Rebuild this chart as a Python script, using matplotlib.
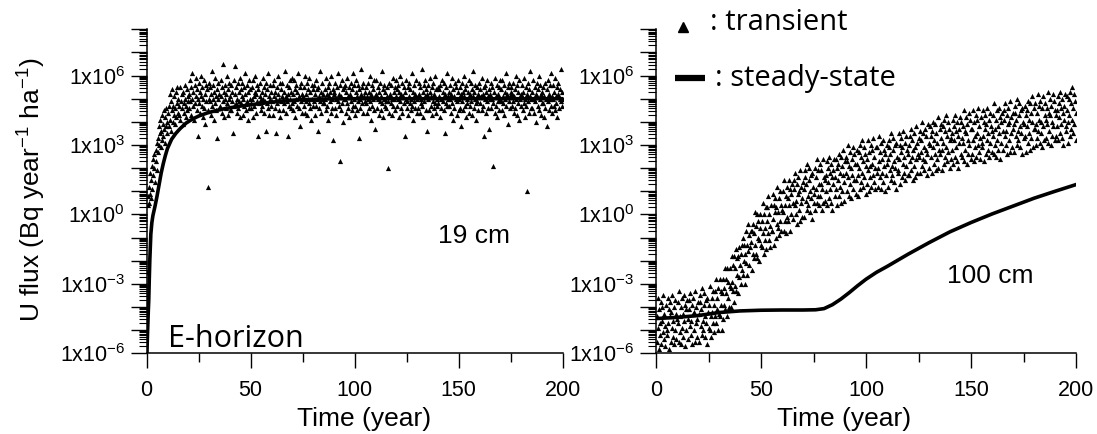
import numpy as np
import matplotlib
matplotlib.use("Agg")
import matplotlib.pyplot as plt
from matplotlib.ticker import LogLocator, FuncFormatter, NullFormatter, MultipleLocator
from matplotlib.lines import Line2D

plt.rcParams['font.family'] = ['Liberation Sans', 'DejaVu Sans']
plt.rcParams['mathtext.fontset'] = 'custom'
plt.rcParams['mathtext.rm'] = 'Liberation Sans'
plt.rcParams['mathtext.it'] = 'Liberation Sans:italic'
plt.rcParams['mathtext.default'] = 'regular'

# ---------------- data ----------------
time_step = 0.25  # years between transient samples

# transient flux, 19 cm (E-horizon), log10(value) x 10
left_transient_log10x10 = [
    -25, 4, 8, 5, 12, 9, 18, 7, 15, 21, 11, 24, 17, 26, 20, 14, 28, 23, 31, 19,
    33, 27, 38, 30, 35, 41, 29, 36, 43, 32, 39, 34, 45, 37, 31, 42, 38, 46, 35, 40,
    44, 38, 47, 52, 41, 36, 49, 45, 54, 40, 47, 43, 51, 39, 46, 53, 42, 48, 55, 44,
    50, 43, 47, 55, 41, 49, 52, 46, 39, 53, 48, 44, 56, 50, 42, 47, 54, 45, 51, 49,
    52, 46, 58, 49, 43, 55, 50, 61, 47, 53, 41, 56, 48, 51, 59, 45, 54, 34, 50, 57,
    48, 53, 44, 60, 51, 47, 55, 42, 50, 58, 46, 52, 39, 56, 49, 54, 45, 12, 57, 50,
    55, 49, 43, 52, 62, 47, 50, 56, 41, 53, 48, 59, 45, 51, 54, 33, 50, 57, 46, 52,
    47, 58, 51, 44, 55, 49, 65, 53, 42, 50, 56, 46, 52, 60, 48, 43, 54, 50, 57, 45,
    51, 45, 56, 49, 53, 35, 58, 47, 52, 64, 48, 55, 44, 50, 57, 46, 53, 49, 42, 59,
    54, 48, 51, 57, 43, 50, 55, 47, 61, 52, 45, 49, 56, 41, 53, 58, 46, 50, 54, 48,
    46, 55, 50, 42, 58, 51, 47, 53, 60, 44, 52, 49, 56, 34, 54, 48, 51, 57, 45, 50,
    53, 47, 59, 50, 44, 55, 49, 52, 36, 57, 48, 54, 46, 61, 51, 43, 56, 50, 47, 53,
    49, 56, 43, 51, 58, 46, 53, 50, 35, 55, 48, 52, 60, 45, 50, 57, 42, 54, 49, 51,
    57, 50, 45, 53, 48, 62, 51, 44, 56, 49, 52, 34, 55, 47, 58, 50, 46, 53, 59, 48,
    45, 52, 58, 49, 54, 42, 50, 56, 47, 53, 61, 46, 51, 38, 55, 49, 57, 44, 52, 50,
    51, 47, 55, 60, 44, 52, 49, 57, 43, 50, 54, 48, 59, 46, 53, 41, 56, 50, 47, 54,
    56, 49, 43, 52, 58, 47, 54, 50, 36, 55, 51, 46, 62, 49, 53, 44, 57, 50, 48, 52,
    48, 54, 50, 45, 59, 52, 47, 55, 41, 51, 57, 49, 53, 44, 60, 50, 46, 54, 32, 52,
    53, 46, 57, 50, 43, 55, 49, 61, 47, 52, 23, 56, 45, 51, 58, 48, 54, 40, 50, 55,
    50, 56, 44, 53, 48, 59, 51, 46, 55, 42, 52, 57, 49, 45, 54, 61, 47, 50, 56, 43,
    47, 53, 58, 45, 51, 49, 56, 33, 54, 50, 46, 63, 52, 48, 55, 44, 57, 51, 49, 53,
    55, 48, 51, 44, 57, 50, 53, 46, 60, 49, 52, 41, 56, 47, 54, 50, 58, 45, 51, 37,
    52, 58, 46, 50, 55, 43, 53, 49, 57, 45, 51, 62, 48, 54, 42, 50, 56, 47, 53, 49,
    46, 51, 55, 20, 49, 57, 44, 52, 48, 56, 50, 43, 59, 47, 53, 50, 45, 55, 51, 58,
    54, 47, 50, 56, 42, 53, 49, 60, 46, 52, 57, 44, 51, 48, 55, 34, 53, 50, 58, 46,
    49, 55, 43, 51, 57, 48, 54, 45, 50, 61, 47, 53, 41, 56, 49, 52, 46, 58, 50, 44,
    51, 46, 57, 52, 44, 55, 48, 50, 63, 47, 53, 42, 56, 49, 51, 58, 45, 54, 36, 52,
    56, 50, 45, 53, 59, 47, 51, 43, 55, 49, 57, 46, 52, 48, 60, 44, 54, 50, 47, 55,
    48, 54, 51, 42, 56, 50, 46, 58, 49, 53, 45, 57, 35, 52, 48, 55, 61, 47, 51, 50,
    53, 47, 56, 50, 44, 52, 59, 48, 54, 41, 51, 46, 57, 50, 55, 43, 49, 53, 58, 45,
    50, 55, 46, 52, 38, 57, 49, 53, 45, 60, 51, 47, 54, 42, 56, 50, 48, 53, 44, 58,
    47, 52, 57, 49, 54, 43, 51, 62, 46, 53, 50, 56, 41, 48, 55, 49, 52, 45, 57, 51,
    54, 48, 51, 59, 45, 52, 47, 55, 34, 50, 56, 44, 53, 49, 58, 46, 51, 54, 37, 50,
    52, 57, 46, 50, 55, 21, 48, 53, 44, 59, 51, 47, 56, 42, 52, 49, 55, 45, 58, 50,
    49, 54, 58, 45, 51, 48, 56, 43, 53, 50, 61, 47, 52, 39, 55, 49, 57, 46, 51, 53,
    55, 47, 52, 49, 57, 44, 51, 54, 46, 60, 50, 43, 56, 48, 53, 41, 58, 50, 47, 52,
    51, 56, 45, 53, 48, 59, 50, 42, 55, 47, 52, 10, 57, 49, 54, 44, 51, 62, 46, 50,
    46, 53, 58, 50, 44, 55, 49, 52, 40, 57, 51, 47, 54, 60, 45, 50, 56, 43, 52, 48,
    53, 48, 55, 42, 51, 57, 46, 50, 54, 38, 58, 49, 52, 45, 56, 50, 47, 61, 51, 44,
    50, 56, 47, 53, 59, 45, 51, 48, 55, 42, 52, 57, 46, 50, 54, 49, 63, 47, 53, 50,
]

# transient flux, 100 cm, log10(value) x 10
right_transient_log10x10 = [
    -44, -55, -36, -49, -58, -41, -47, -52, -38, -56, -46, -40, -51, -35, -54, -43, -48, -57, -39, -50,
    -52, -36, -47, -41, -58, -44, -38, -55, -42, -49, -35, -53, -46, -40, -56, -37, -50, -43, -54, -45,
    -38, -47, -55, -33, -44, -51, -40, -56, -36, -49, -43, -53, -35, -46, -39, -57, -41, -50, -37, -45,
    -54, -41, -37, -48, -34, -52, -46, -39, -56, -43, -36, -50, -42, -55, -33, -47, -40, -53, -45, -38,
    -43, -55, -38, -35, -48, -41, -52, -32, -46, -50, -39, -34, -53, -44, -37, -47, -56, -36, -42, -49,
    -39, -50, -31, -44, -53, -36, -42, -47, -33, -51, -39, -33, -44, -28, -47, -36, -41, -50, -32, -43,
    -44, -28, -39, -33, -50, -34, -28, -45, -32, -39, -23, -41, -34, -28, -44, -23, -36, -29, -40, -31,
    -23, -32, -40, -18, -29, -33, -22, -38, -18, -31, -23, -33, -15, -26, -19, -34, -18, -27, -14, -22,
    -30, -17, -13, -24, -10, -26, -20, -13, -30, -17, -7, -21, -13, -26, -4, -16, -9, -22, -14, -7,
    -12, -24, -7, -4, -17, -8, -19, 1, -13, -17, -5, 0, -19, -10, -3, -11, -20, 0, -6, -13,
    -3, -14, 5, -8, -17, 0, -6, -11, 3, -15, -3, 3, -8, 8, -11, 0, -5, -14, 4, -7,
    -7, 9, -2, 4, -13, 1, 7, -10, 3, -4, 12, -6, 1, 7, -9, 10, -3, 4, -7, 2,
    10, 1, -7, 15, 4, -3, 8, -8, 12, -1, 7, -3, 15, 4, 11, -7, 9, 0, 13, 5,
    -2, 11, 15, 4, 18, 0, 6, 13, -4, 9, 16, 2, 10, -3, 19, 5, 12, -1, 7, 14,
    11, -1, 16, 19, 6, 13, 2, 22, 8, 4, 15, 20, 1, 10, 17, 7, -2, 18, 12, 5,
    9, 20, 2, 11, 16, 5, 24, 8, 19, 13, 4, 22, 8, 13, 19, 2, 11, 24, 5, 16,
    15, 6, 17, 10, 23, 4, 20, 14, 7, 25, 11, 18, 5, 22, 16, 2, 19, 13, 24, 8,
    16, 24, 11, 20, 4, 22, 15, 26, 8, 18, 12, 25, 5, 21, 10, 17, 28, 6, 14, 23,
    25, 18, 10, 23, 16, 30, 8, 21, 13, 27, 20, 7, 24, 17, 11, 29, 15, 26, 22, 9,
    15, 22, 28, 8, 17, 27, 20, 11, 30, 25, 14, 18, 32, 12, 23, 16, 29, 26, 9, 21,
    24, 13, 32, 19, 10, 27, 21, 16, 30, 12, 22, 28, 17, 33, 14, 25, 20, 11, 29, 18,
    29, 20, 12, 34, 23, 16, 27, 11, 31, 18, 24, 14, 32, 21, 28, 10, 26, 17, 30, 22,
    24, 12, 29, 32, 19, 26, 15, 35, 21, 17, 28, 33, 14, 23, 30, 20, 11, 31, 25, 18,
    19, 35, 24, 30, 13, 27, 33, 16, 29, 22, 36, 18, 25, 31, 15, 34, 21, 28, 17, 26,
    17, 30, 34, 23, 37, 19, 25, 32, 15, 28, 35, 21, 29, 16, 38, 24, 31, 18, 26, 33,
    25, 36, 18, 27, 32, 21, 40, 24, 35, 29, 19, 37, 23, 28, 34, 17, 26, 39, 20, 31,
    30, 38, 25, 34, 18, 36, 29, 40, 22, 32, 26, 39, 19, 35, 24, 31, 42, 20, 28, 37,
    26, 33, 39, 19, 28, 38, 31, 22, 41, 36, 25, 29, 43, 23, 34, 27, 40, 37, 20, 32,
    33, 24, 35, 28, 41, 22, 38, 32, 25, 43, 29, 36, 23, 40, 34, 20, 37, 31, 42, 26,
    40, 33, 25, 38, 31, 45, 23, 36, 28, 42, 35, 22, 39, 32, 26, 44, 30, 41, 37, 24,
    37, 26, 45, 32, 23, 40, 34, 29, 43, 25, 35, 41, 30, 46, 27, 38, 33, 24, 42, 31,
    29, 45, 34, 40, 23, 37, 43, 26, 39, 32, 46, 28, 35, 41, 25, 44, 31, 38, 27, 36,
    43, 34, 26, 48, 37, 30, 41, 25, 45, 32, 38, 28, 46, 35, 42, 24, 40, 31, 44, 36,
    28, 41, 45, 34, 48, 30, 36, 43, 26, 39, 46, 32, 40, 27, 49, 35, 42, 29, 37, 44,
    39, 27, 44, 47, 34, 41, 30, 50, 36, 32, 43, 48, 29, 38, 45, 35, 26, 46, 40, 33,
    39, 47, 34, 43, 27, 45, 38, 49, 31, 41, 35, 48, 28, 44, 33, 40, 51, 29, 37, 46,
    37, 48, 30, 39, 44, 33, 52, 36, 47, 41, 31, 49, 35, 40, 46, 29, 38, 51, 32, 43,
    48, 41, 33, 46, 39, 53, 31, 44, 36, 50, 43, 30, 47, 40, 34, 52, 38, 49, 45, 32,
    43, 34, 45, 38, 51, 32, 48, 42, 35, 53, 39, 46, 33, 50, 44, 30, 47, 41, 52, 36,
    38, 45, 51, 31, 40, 50, 43, 34, 53, 48, 37, 41, 55, 35, 46, 39, 52, 49, 32, 44,
]

# steady-state flux, 19 cm
left_steady_t = [0, 0.25, 0.5, 0.75, 1.0, 1.25, 1.5, 2.0, 2.5, 3.0, 3.5, 4, 5, 6, 7, 8, 9, 10,
                 12, 14, 16, 19, 22, 25, 29, 33, 38, 45, 52, 60, 72, 85, 100, 120, 140, 160, 180, 200]
left_steady_log10 = [-6.5, -5.6, -4.9, -4.25, -3.7, -2.8, -2.0, -0.85, -0.35, -0.05, 0.15, 0.35,
                     0.8, 1.3, 1.8, 2.2, 2.55, 2.85, 3.25, 3.5, 3.7, 3.95, 4.12, 4.25, 4.38, 4.48,
                     4.58, 4.68, 4.76, 4.85, 4.95, 4.99, 5.0, 5.0, 5.0, 5.0, 5.0, 5.0]

# steady-state flux, 100 cm
right_steady_t = [0, 10, 20, 30, 40, 50, 60, 70, 76, 80, 84, 88, 92, 96, 100, 105, 110,
                  120, 130, 140, 150, 160, 170, 180, 190, 200]
right_steady_log10 = [-4.5, -4.45, -4.37, -4.24, -4.17, -4.14, -4.13, -4.13, -4.12, -4.07, -3.9,
                      -3.66, -3.38, -3.08, -2.8, -2.5, -2.25, -1.72, -1.22, -0.75, -0.35, 0.02,
                      0.36, 0.7, 1.0, 1.29]

depth_labels = ["19 cm", "100 cm"]
x_ticks = [0, 50, 100, 150, 200]
labeled_exponents = [-6, -3, 0, 3, 6]

# ---------------- figure ----------------
fig = plt.figure(figsize=(10.97, 4.34), dpi=100)
axL = fig.add_axes([0.1337, 0.186, 0.3792, 0.7465])
axR = fig.add_axes([0.598, 0.186, 0.3829, 0.7465])

casual_font = ['Open Sans', 'DejaVu Sans']


def fmt(v, pos):
    e = int(round(np.log10(v)))
    if e in labeled_exponents:
        return r'1x10$^{%d}$' % e
    return ''


def style(ax):
    ax.set_yscale('log')
    ax.set_xlim(0, 200)
    ax.set_ylim(1e-6, 1e8)
    for s in ['top', 'right']:
        ax.spines[s].set_visible(False)
    for s in ['left', 'bottom']:
        ax.spines[s].set_linewidth(1.1)
    ax.yaxis.set_major_locator(LogLocator(base=10, numticks=30))
    ax.yaxis.set_minor_locator(LogLocator(base=10, subs=np.arange(2, 10), numticks=30))
    ax.yaxis.set_major_formatter(FuncFormatter(fmt))
    ax.yaxis.set_minor_formatter(NullFormatter())
    ax.set_xticks(x_ticks)
    ax.xaxis.set_minor_locator(MultipleLocator(25))
    ax.tick_params(axis='y', which='major', direction='out', length=11.5, width=1.0,
                   labelsize=15.5, pad=4)
    ax.tick_params(axis='y', which='minor', direction='out', length=6, width=0.8)
    ax.tick_params(axis='x', which='major', direction='out', length=11, width=1.0,
                   labelsize=15.5, pad=8)
    ax.tick_params(axis='x', which='minor', direction='out', length=6.5, width=1.0)
    ax.set_xlabel('Time (year)', fontsize=19)


for ax, trans, st_t, st_v in [
    (axL, left_transient_log10x10, left_steady_t, left_steady_log10),
    (axR, right_transient_log10x10, right_steady_t, right_steady_log10),
]:
    style(ax)
    vals = np.array(trans, dtype=float)
    tt = time_step * np.arange(1, len(vals) + 1)
    ax.scatter(tt, 10 ** (vals / 10.0), marker='^', s=14, c='k', linewidths=0, zorder=2)
    ax.plot(st_t, 10 ** np.array(st_v), color='k', lw=2.6, zorder=3)

axL.xaxis.set_label_coords(0.522, -0.165)
axR.xaxis.set_label_coords(0.448, -0.165)

fig.text(0.029, 1 - 190 / 434, r'U flux (Bq year$^{-1}$ ha$^{-1}$)', rotation=90,
         ha='center', va='center', fontsize=19)

axL.text(0.787, 0.362, depth_labels[0], transform=axL.transAxes, fontsize=19,
         ha='center', va='center')
axR.text(0.795, 0.239, depth_labels[1], transform=axR.transAxes, fontsize=19,
         ha='center', va='center')
axL.text(0.051, 0.019, 'E-horizon', transform=axL.transAxes, fontsize=22,
         ha='left', va='baseline', family=casual_font)

# legend (drawn in figure coordinates)
fig.add_artist(Line2D([0.6229], [0.9385], marker='^', color='k', markersize=7, lw=0,
                      transform=fig.transFigure))
fig.text(0.6472, 0.949, ': transient', fontsize=21, ha='left', va='center', family=casual_font)
fig.add_artist(Line2D([0.6153, 0.6427], [0.8196, 0.8196], color='k', lw=4.5,
                      transform=fig.transFigure, solid_capstyle='butt'))
fig.text(0.6518, 0.820, ': steady-state', fontsize=21, ha='left', va='center', family=casual_font)

fig.savefig('out.png', dpi=100)
